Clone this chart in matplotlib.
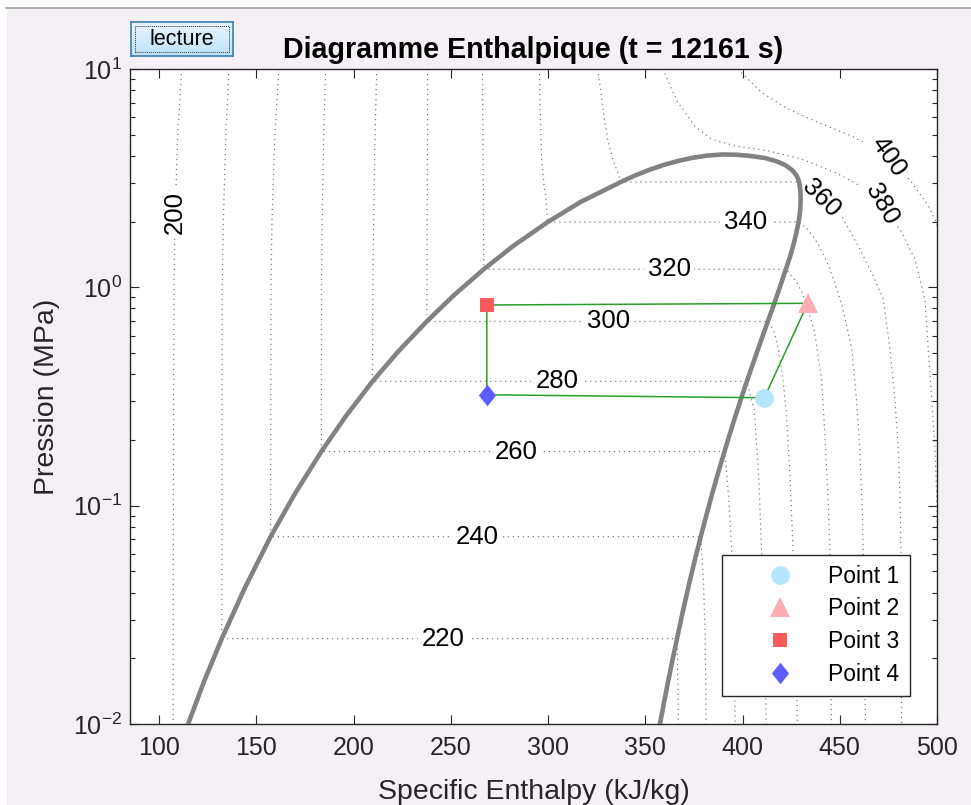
import numpy as np
import matplotlib
matplotlib.use("Agg")
import matplotlib.pyplot as plt
from matplotlib.patches import Rectangle
from matplotlib.lines import Line2D

plt.rcParams['font.family'] = ['Liberation Sans', 'DejaVu Sans']
plt.rcParams['mathtext.default'] = 'regular'
plt.rcParams['axes.unicode_minus'] = False

# Courbe de saturation (h en kJ/kg, P en MPa)
dome_liq_h = [114.9, 123.1, 132.2, 144.1, 157.3, 169.7, 183.4, 195.9, 209.7, 223.0, 237.6,
              251.5, 266.9, 282.3, 299.8, 316.7, 337.5, 344.6, 351.9, 359.2, 366.7, 374.3,
              381.7, 389.5]
dome_liq_p = [0.0100, 0.01568, 0.0246, 0.0421, 0.0721, 0.113, 0.177, 0.2563, 0.371, 0.509, 0.698,
              0.919, 1.21, 1.552, 1.99, 2.46, 3.04, 3.25, 3.45, 3.63, 3.79, 3.92,
              4.01, 4.06]
dome_vap_h = [389.5, 396.7, 403.7, 411.6, 417.5, 422.2, 425.7, 427.9, 429.1, 429.7, 429.9,
              429.7, 429.3, 428.8, 427.7, 426.2, 424.4, 422.3, 420.1, 417.8, 415.4, 413.0,
              410.4, 407.6, 404.9, 402.2, 399.3, 396.5, 393.6, 390.7, 387.3, 384.1, 381.2,
              378.5, 375.6, 372.7, 369.7, 366.3, 363.9, 361.3, 357.5]
dome_vap_p = [4.06, 4.05, 4.00, 3.91, 3.78, 3.62, 3.43, 3.24, 3.04, 2.80, 2.54,
              2.30, 2.12, 1.99, 1.78, 1.57, 1.38, 1.21, 1.06, 0.92, 0.80, 0.698,
              0.60, 0.51, 0.435, 0.371, 0.31, 0.26, 0.215, 0.177, 0.14, 0.111, 0.089,
              0.0721, 0.057, 0.0445, 0.034, 0.0246, 0.0195, 0.015, 0.0100]

# Isothermes (K) : partie liquide, de 10 MPa jusqu'a la saturation
iso_liq_h = {
    200: [111.6, 109.5, 108.1, 107.6, 107.3, 107.2],
    220: [135.9, 134.3, 133.0, 132.4, 132.2],
    240: [161.6, 159.5, 158.0, 157.5, 157.3],
    260: [185.6, 184.6, 183.8, 183.5, 183.4],
    280: [211.9, 211.0, 210.3, 209.9, 209.7],
    300: [238.0, 238.0, 237.8, 237.7, 237.6],
    320: [266.2, 266.5, 266.8, 266.9],
    340: [295.5, 296.0, 296.7, 298.0, 298.9, 299.8],
    360: [325.5, 327.2, 328.9, 330.6, 333.2, 335.8, 337.5],
}
iso_liq_p = {
    200: [10, 5, 2, 1, 0.1, 0.01],
    220: [10, 5, 2, 1, 0.0246],
    240: [10, 5, 2, 1, 0.0721],
    260: [10, 5, 2, 1, 0.177],
    280: [10, 5, 2, 1, 0.371],
    300: [10, 5, 2, 1, 0.698],
    320: [10, 5, 2, 1.21],
    340: [10, 6.0, 3.87, 2.9, 2.54, 1.99],
    360: [10, 7.82, 5.9, 4.78, 3.87, 3.36, 3.04],
}

# partie vapeur (ou supercritique), de la saturation jusqu'a 0.01 MPa
iso_vap_h = {
    220: [366.3, 366.7, 367.0],
    240: [378.5, 379.9, 380.8, 381.3],
    260: [390.7, 391.6, 392.9, 394.3, 395.4, 396.2],
    280: [402.2, 404.0, 406.0, 408.0, 408.8, 409.7, 411.0, 412.2],
    300: [413.0, 416.5, 418.8, 420.8, 422.5, 424.2, 425.9, 427.2, 428.2],
    320: [422.3, 428.0, 431.0, 433.7, 437.1, 440.6, 442.3, 444.0, 444.9, 445.7],
    340: [428.8, 433.5, 438.5, 443.5, 447.5, 451.7, 456.2, 458.6, 460.3, 461.5, 462.3, 463.2],
    360: [429.1, 434.0, 441.0, 450.9, 459.6, 466.3, 472.5, 475.8, 478.4, 480.1, 481.0, 481.4, 481.8],
    380: [358.9, 366.7, 375.3, 383.9, 395.9, 413.1, 430.3, 447.4, 457.7, 471.5, 481.8, 488.7,
          493.8, 495.5, 497.3, 499.0, 499.9, 500.6, 501.2],
    400: [397.6, 409.7, 423.4, 438.9, 456.0, 475.1, 487.0, 495.6, 499.0, 503.0],
}
iso_vap_p = {
    220: [0.0246, 0.016, 0.01],
    240: [0.0721, 0.045, 0.025, 0.01],
    260: [0.177, 0.15, 0.107, 0.065, 0.03, 0.01],
    280: [0.371, 0.32, 0.275, 0.151, 0.107, 0.065, 0.03, 0.01],
    300: [0.698, 0.619, 0.5, 0.378, 0.266, 0.151, 0.065, 0.03, 0.01],
    320: [1.21, 1.05, 0.93, 0.79, 0.619, 0.378, 0.217, 0.107, 0.065, 0.01],
    340: [1.99, 1.85, 1.6, 1.3, 1.05, 0.79, 0.52, 0.306, 0.181, 0.1, 0.05, 0.01],
    360: [3.04, 2.85, 2.54, 2.12, 1.54, 1.17, 0.88, 0.52, 0.306, 0.181, 0.107, 0.065, 0.01],
    380: [10, 7.03, 5.49, 4.78, 4.45, 4.22, 3.87, 3.36, 3.02, 2.45, 1.79, 1.34,
          0.881, 0.52, 0.306, 0.181, 0.107, 0.05, 0.01],
    400: [10, 7.82, 6.56, 5.69, 4.94, 3.99, 3.02, 2.36, 2.05, 1.6],
}

# etiquettes des isothermes
lab_temps = [200, 220, 240, 260, 280, 300, 320, 340, 360, 380, 400]
lab_h = [108.2, 246.3, 263.8, 283.4, 304.5, 331.3, 362.2, 401.4, 440.6, 471.5, 475.1]
lab_p = [2.21, 0.0246, 0.0721, 0.177, 0.371, 0.698, 1.21, 1.99, 2.56, 2.41, 3.95]
lab_rot = [90, 0, 0, 0, 0, 0, 0, 0, -45, -60, -55]

# cycle frigorifique
pt_names = ['Point 1', 'Point 2', 'Point 3', 'Point 4']
pt_h = [411.2, 433.5, 268.5, 268.5]
pt_p = [0.312, 0.845, 0.83, 0.322]

W, H = 971, 805
BG = '#f5f0f5'
AXC = '#262626'

fig = plt.figure(figsize=(W / 100, H / 100), dpi=100)
fig.patch.set_facecolor('white')
fig.add_artist(Rectangle((7 / W, 0), 1, 1 - 9 / H, transform=fig.transFigure,
                         facecolor=BG, edgecolor='none', zorder=-5))
fig.add_artist(Line2D([6 / W, 1], [1 - 8.5 / H] * 2, transform=fig.transFigure,
                      color='#a0a0a0', lw=1.2))

ax = fig.add_axes([130 / W, 81 / H, 807 / W, 655 / H])
ax.set_facecolor('white')
ax.set_yscale('log')

# isothermes en pointilles
for T in lab_temps:
    h = iso_liq_h.get(T, []) + iso_vap_h.get(T, [])
    p = iso_liq_p.get(T, []) + iso_vap_p.get(T, [])
    ax.plot(h, p, ls=(0, (1, 3)), color='#7c7c7c', lw=0.9, zorder=2)

for T, h, p, r in zip(lab_temps, lab_h, lab_p, lab_rot):
    ax.text(h, p, str(T), fontsize=18.5, rotation=r, rotation_mode='anchor',
            ha='center', va='center', color='black', zorder=3,
            bbox=dict(boxstyle='square,pad=0.15', fc='white', ec='none'))

# cloche de saturation
ax.plot(dome_liq_h + dome_vap_h, dome_liq_p + dome_vap_p, color='#828282', lw=3.3,
        zorder=4, solid_joinstyle='round')

# cycle
ax.plot(pt_h + pt_h[:1], pt_p + pt_p[:1], color='#2a9d2a', lw=1.1, zorder=5)

diamond = [(0, 1), (0.8, 0), (0, -1), (-0.8, 0), (0, 1)]
styles = [('o', 13.5, '#b5e6fb'), ('^', 14, '#ffadb4'), ('s', 10.5, '#fa5a5a'), (diamond, 15.5, '#5c5cff')]
for name, h, p, (m, ms, c) in zip(pt_names, pt_h, pt_p, styles):
    ax.plot(h, p, ls='none', marker=m, ms=ms, color=c, mec=c, mew=0, label=name, zorder=6)

ax.set_xlim(85, 500)
ax.set_ylim(0.01, 10)
ax.set_xticks(np.arange(100, 501, 50))

for s in ax.spines.values():
    s.set_color(AXC)
    s.set_linewidth(1.0)
ax.tick_params(which='both', direction='in', top=True, right=True, colors=AXC, width=0.8)
ax.tick_params(which='major', length=6.5, labelsize=18)
ax.tick_params(which='minor', length=3.5)
ax.tick_params(axis='x', pad=8.5)
ax.tick_params(axis='y', pad=6)

ax.set_xlabel('Specific Enthalpy (kJ/kg)', fontsize=20.5, color=AXC)
ax.xaxis.label.set_va('baseline')
ax.xaxis.set_label_coords(0.5, -(798.5 - 724) / 655)
ax.set_ylabel('Pression (MPa)', fontsize=20.5, color=AXC)
ax.yaxis.label.set_va('center')
ax.yaxis.set_label_coords(-(130 - 47) / 807, 0.5)

fig.text(533 / W, 1 - 57.5 / H, 'Diagramme Enthalpique (t = 12161 s)', fontsize=20.6,
         fontweight='bold', ha='center', va='baseline')

leg = ax.legend(loc='lower right', bbox_to_anchor=((910 - 130) / 807, (724 - 696) / 655),
                borderaxespad=0, fontsize=16.5, frameon=True, fancybox=False,
                edgecolor=AXC, framealpha=1, handlelength=4.2, handletextpad=0.0,
                labelspacing=0.42, borderpad=0.45, numpoints=1)
leg.get_frame().set_linewidth(1.0)

# bouton "lecture"
bax = fig.add_axes([131 / W, 1 - 56 / H, 102 / W, 34 / H])
top_c = np.array([0.91, 0.96, 0.99])
bot_c = np.array([0.74, 0.89, 0.98])
grad = np.linspace(0, 1, 40)[:, None, None] * (bot_c - top_c) + top_c
bax.imshow(grad, aspect='auto', extent=[0, 1, 0, 1], origin='upper')
bax.set_xlim(0, 1)
bax.set_ylim(0, 1)
bax.set_xticks([])
bax.set_yticks([])
for s in bax.spines.values():
    s.set_color('#3c7fb1')
    s.set_linewidth(1.2)
bax.add_patch(Rectangle((0.04, 0.12), 0.92, 0.76, fill=False, ls=(0, (1, 1)), lw=0.7, ec='#333333'))
bax.text(0.5, 0.48, 'lecture', fontsize=15.5, ha='center', va='center', color='black')

fig.savefig('out.png', dpi=100)
